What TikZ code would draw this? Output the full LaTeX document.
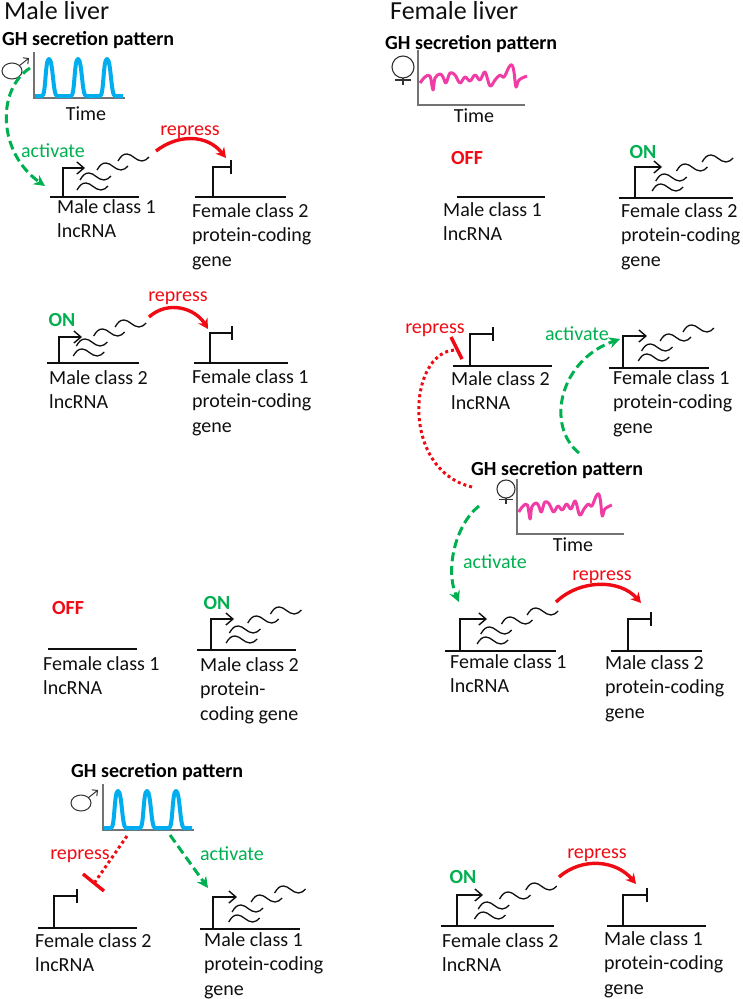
\documentclass[tikz,border=0pt]{standalone}
\usepackage{fontspec}
\setmainfont{Carlito}
\usetikzlibrary{arrows.meta}
\definecolor{actgreen}{RGB}{0,176,80}
\definecolor{repred}{RGB}{240,10,20}
\definecolor{pulseblue}{RGB}{0,174,239}
\definecolor{gpink}{RGB}{240,60,165}
\definecolor{inkdark}{RGB}{15,15,15}
\newcommand{\geneOn}[8]{
  \coordinate (#1l) at (#2,#5);
  \coordinate (#1r) at (#3,#5);
  \coordinate (#1s) at (#4,#5);
  \coordinate (#1t) at (#4,#6);
  \coordinate (#1e) at (#7,#6);
  \draw[dna] (#1l) -- (#1r);
  \draw[tss] (#1s) -- (#1t) -- (#1e);
  \pic[xscale=#8] at (#1s) {rnagroup};
}
\newcommand{\geneOff}[7]{
  \coordinate (#1l) at (#2,#5);
  \coordinate (#1r) at (#3,#5);
  \coordinate (#1s) at (#4,#5);
  \coordinate (#1t) at (#4,#6);
  \coordinate (#1e) at (#7,#6);
  \draw[dna] (#1l) -- (#1r);
  \draw[dna] (#1s) -- (#1t) -- (#1e);
  \draw[dna] ([yshift=7pt]#1e) -- ([yshift=-7pt]#1e);
}
\begin{document}
\begin{tikzpicture}[
    x=1pt, y=-1pt,
    dna/.style={inkdark, line width=1.4pt},
    tss/.style={dna, -{Straight Barb[length=7pt,width=12pt]}},
    wave/.style={inkdark, line width=1.3pt},
    axisline/.style={black!55, line width=1.2pt},
    act/.style={actgreen, line width=3pt, dash pattern=on 9pt off 4.5pt, -{Stealth[length=11pt,width=11pt]}},
    rep/.style={repred, line width=3.4pt, -{Stealth[length=10pt,width=11pt]}},
    repdot/.style={repred, line width=3pt, dash pattern=on 3pt off 3pt},
    repbar/.style={repred, line width=3.4pt},
    lab/.style={anchor=north west, inner sep=0pt, align=left, inkdark, font=\fontsize{20}{24.5}\selectfont},
    word/.style={anchor=base, inner sep=0pt, font=\fontsize{20}{24}\selectfont},
    title/.style={anchor=base west, inner sep=0pt, inkdark, font=\fontsize{26}{30}\selectfont},
    head/.style={anchor=base west, inner sep=0pt, black, font=\fontsize{20}{22}\selectfont\bfseries},
    flag/.style={anchor=base, inner sep=0pt, font=\fontsize{20}{24}\selectfont\bfseries},
    rnaone/.pic={\draw[wave] (0,0) .. controls (3,-5) and (5,-7) .. (9,-7) .. controls (14,-7) and (18,0) .. (24,0) .. controls (27,0) and (29,-2) .. (31,-4);},
    rnagroup/.pic={
      \pic at (14,-7) {rnaone};
      \pic at (17,-17) {rnaone};
      \pic at (34,-27) {rnaone};
      \pic at (55,-36) {rnaone};
    },
    malesign/.pic={
      \draw[black!80, line width=1pt] (0,0) ellipse [x radius=10pt, y radius=8pt];
      \draw[black!80, line width=1pt, -{Straight Barb[length=4pt,width=8pt]}] (7,-5) -- (17,-13);
    },
    femsign/.pic={
      \draw[black!80, line width=1.1pt] (0,0) circle [radius=11pt];
      \draw[black!80, line width=1.1pt] (0,11) -- (0,18);
      \draw[black!80, line width=1.1pt] (-8,13) -- (8,13);
    },
    malepulse/.pic={
      \draw[axisline] (0,-46) -- (0,0) -- (91,0);
      \draw[pulseblue, line width=4pt, line join=round] (1,-2) -- (8,-2)
        .. controls (12,-2) and (11,-39) .. (15,-39) .. controls (19,-39) and (19,-2) .. (23,-2) -- (37,-2)
        .. controls (41,-2) and (40,-39) .. (44,-39) .. controls (48,-39) and (48,-2) .. (52,-2) -- (66,-2)
        .. controls (70,-2) and (69,-39) .. (73,-39) .. controls (77,-39) and (77,-2) .. (81,-2) -- (89,-2);
      \pic at (-22,-27) {malesign};
    },
    femaxis/.pic={\draw[axisline] (0,-55) -- (0,0) -- (107,0);},
    femwave/.pic={\draw[gpink, line width=3pt, line join=round] plot[smooth, tension=.6] coordinates {
      (2,-22) (7,-28) (12,-29) (15,-15) (17,-27) (22,-31) (25,-28) (28,-22) (32,-32) (37,-30) (42,-22) (47,-28) (52,-24)
      (57,-30) (62,-25) (67,-33) (72,-19) (77,-25) (82,-30) (86,-28) (91,-38) (94,-40) (96,-33) (98,-18) (101,-25) (109,-29)};}
  ]
  \useasboundingbox (0,0) rectangle (742,999);

  \node[title] (mliver) at (4,19) {Male liver};
  \node[title] (fliver) at (390,19) {Female liver};

  \node[head] (gh1) at (2,45) {GH secretion pattern};
  \pic at (34,98) {malepulse};
  \node[word, inkdark] (time1) at (86,120) {Time};
  \geneOn{a}{50}{139}{63}{197}{168}{85}{1}
  \geneOff{b}{195}{286}{213}{197}{167}{231}
  \node[lab] (alab) at (57,199) {Male class 1\\lncRNA};
  \node[lab] (blab) at (192,203) {Female class 2\\protein-coding\\gene};
  \coordinate (act1s) at (30,68);
  \coordinate (act1e) at (45,186);
  \draw[act] (act1s) .. controls (-4,90) and (-2,153) .. (act1e);
  \node[word, actgreen] (act1) at (53,157) {activate};
  \coordinate (rep1s) at (156,151);
  \coordinate (rep1e) at (226,158);
  \draw[rep] (rep1s) .. controls (178,134) and (207,134) .. (rep1e);
  \node[word, repred] (rep1) at (190,135) {repress};

  \node[flag, actgreen] (on1) at (62,326) {ON};
  \geneOn{c}{47}{139}{59}{363}{337}{82}{1.02}
  \geneOff{d}{194}{288}{210}{363}{333}{232}
  \node[lab] (clab) at (49,370) {Male class 2\\lncRNA};
  \node[lab] (dlab) at (192,369) {Female class 1\\protein-coding\\gene};
  \coordinate (rep2s) at (149,317);
  \coordinate (rep2e) at (208,329);
  \draw[rep] (rep2s) .. controls (168,300) and (195,308) .. (rep2e);
  \node[word, repred] (rep2) at (178,301) {repress};

  \node[flag, repred] (off1) at (68,614) {OFF};
  \coordinate (el) at (48,649);
  \coordinate (er) at (137,649);
  \draw[dna] (el) -- (er);
  \node[lab] (elab) at (43,656) {Female class 1\\lncRNA};
  \node[flag, actgreen] (on2) at (217,609) {ON};
  \geneOn{f}{197}{296}{211}{650}{619}{234}{1.08}
  \node[lab] (flab) at (200,657) {Male class 2\\protein-\\coding gene};

  \node[head] (gh2) at (71,777) {GH secretion pattern};
  \pic at (103,830) {malepulse};
  \coordinate (rep3s) at (127,836);
  \coordinate (rep3e) at (95,882);
  \coordinate (bar3a) at (83,874);
  \coordinate (bar3b) at (104,891);
  \draw[repdot] (rep3s) -- (rep3e);
  \draw[repbar] (bar3a) -- (bar3b);
  \node[word, repred] (rep3) at (80,859) {repress};
  \coordinate (act3s) at (170,835);
  \coordinate (act3e) at (208,888);
  \draw[act] (act3s) -- (act3e);
  \node[word, actgreen] (act3) at (232,860) {activate};
  \geneOff{g}{38}{137}{54}{928}{896}{77}
  \node[lab] (glab) at (35,933) {Female class 2\\lncRNA};
  \geneOn{h}{200}{300}{213}{929}{897}{237}{1.12}
  \node[lab] (hlab) at (204,932) {Male class 1\\protein-coding\\gene};

  \node[head] (gh3) at (385,49) {GH secretion pattern};
  \pic at (418,105) {femaxis};
  \pic at (418,105) {femwave};
  \pic at (403,67) {femsign};
  \node[word, inkdark] (time3) at (474,122) {Time};
  \node[flag, repred] (off2) at (467,164) {OFF};
  \coordinate (il) at (457,197);
  \coordinate (ir) at (545,197);
  \draw[dna] (il) -- (ir);
  \node[lab] (ilab) at (443,202) {Male class 1\\lncRNA};
  \node[flag, actgreen] (on3) at (643,158) {ON};
  \geneOn{j}{619}{733}{635}{198}{167}{662}{1.22}
  \node[lab] (jlab) at (621,203) {Female class 2\\protein-coding\\gene};

  \geneOff{k}{453}{552}{470}{366}{334}{493}
  \node[lab] (klab) at (451,371) {Male class 2\\lncRNA};
  \geneOn{l}{609}{709}{623}{368}{336}{647}{1.09}
  \node[lab] (llab) at (613,370) {Female class 1\\protein-coding\\gene};
  \coordinate (rep4s) at (472,487);
  \coordinate (rep4e) at (455,350);
  \coordinate (bar4a) at (451,337);
  \coordinate (bar4b) at (462,359);
  \draw[repdot] (rep4s) .. controls (400,470) and (408,352) .. (rep4e);
  \draw[repbar] (bar4a) -- (bar4b);
  \node[word, repred] (rep4) at (435,333) {repress};
  \coordinate (act4s) at (579,453);
  \coordinate (act4e) at (620,339);
  \draw[act] (act4s) .. controls (545,425) and (560,360) .. (act4e);
  \node[word, actgreen] (act4) at (577,340) {activate};

  \node[head] (gh4) at (471,475) {GH secretion pattern};
  \pic at (517,534) {femaxis};
  \pic[xscale=.87] at (517,534) {femwave};
  \pic[scale=.82] at (506,489) {femsign};
  \node[word, inkdark] (time4) at (573,551) {Time};
  \coordinate (act5s) at (479,506);
  \coordinate (act5e) at (459,602);
  \draw[act] (act5s) .. controls (455,525) and (445,570) .. (act5e);
  \node[word, actgreen] (act5) at (495,568) {activate};
  \geneOn{m}{445}{556}{460}{651}{619}{487}{1.22}
  \geneOff{n}{611}{702}{628}{651}{619}{651}
  \node[lab] (mlab) at (450,654) {Female class 1\\lncRNA};
  \node[lab] (nlab) at (605,655) {Male class 2\\protein-coding\\gene};
  \coordinate (rep5s) at (556,602);
  \coordinate (rep5e) at (641,603);
  \draw[rep] (rep5s) .. controls (580,579) and (620,579) .. (rep5e);
  \node[word, repred] (rep5) at (602,580) {repress};

  \node[flag, actgreen] (on4) at (463,883) {ON};
  \geneOn{p}{441}{554}{457}{926}{895}{483}{1.25}
  \geneOff{q}{607}{706}{623}{926}{895}{647}
  \node[lab] (plab) at (442,933) {Female class 2\\lncRNA};
  \node[lab] (qlab) at (604,931) {Male class 1\\protein-coding\\gene};
  \coordinate (rep6s) at (559,877);
  \coordinate (rep6e) at (636,884);
  \draw[rep] (rep6s) .. controls (582,857) and (616,860) .. (rep6e);
  \node[word, repred] (rep6) at (597,858) {repress};
\end{tikzpicture}
\end{document}
